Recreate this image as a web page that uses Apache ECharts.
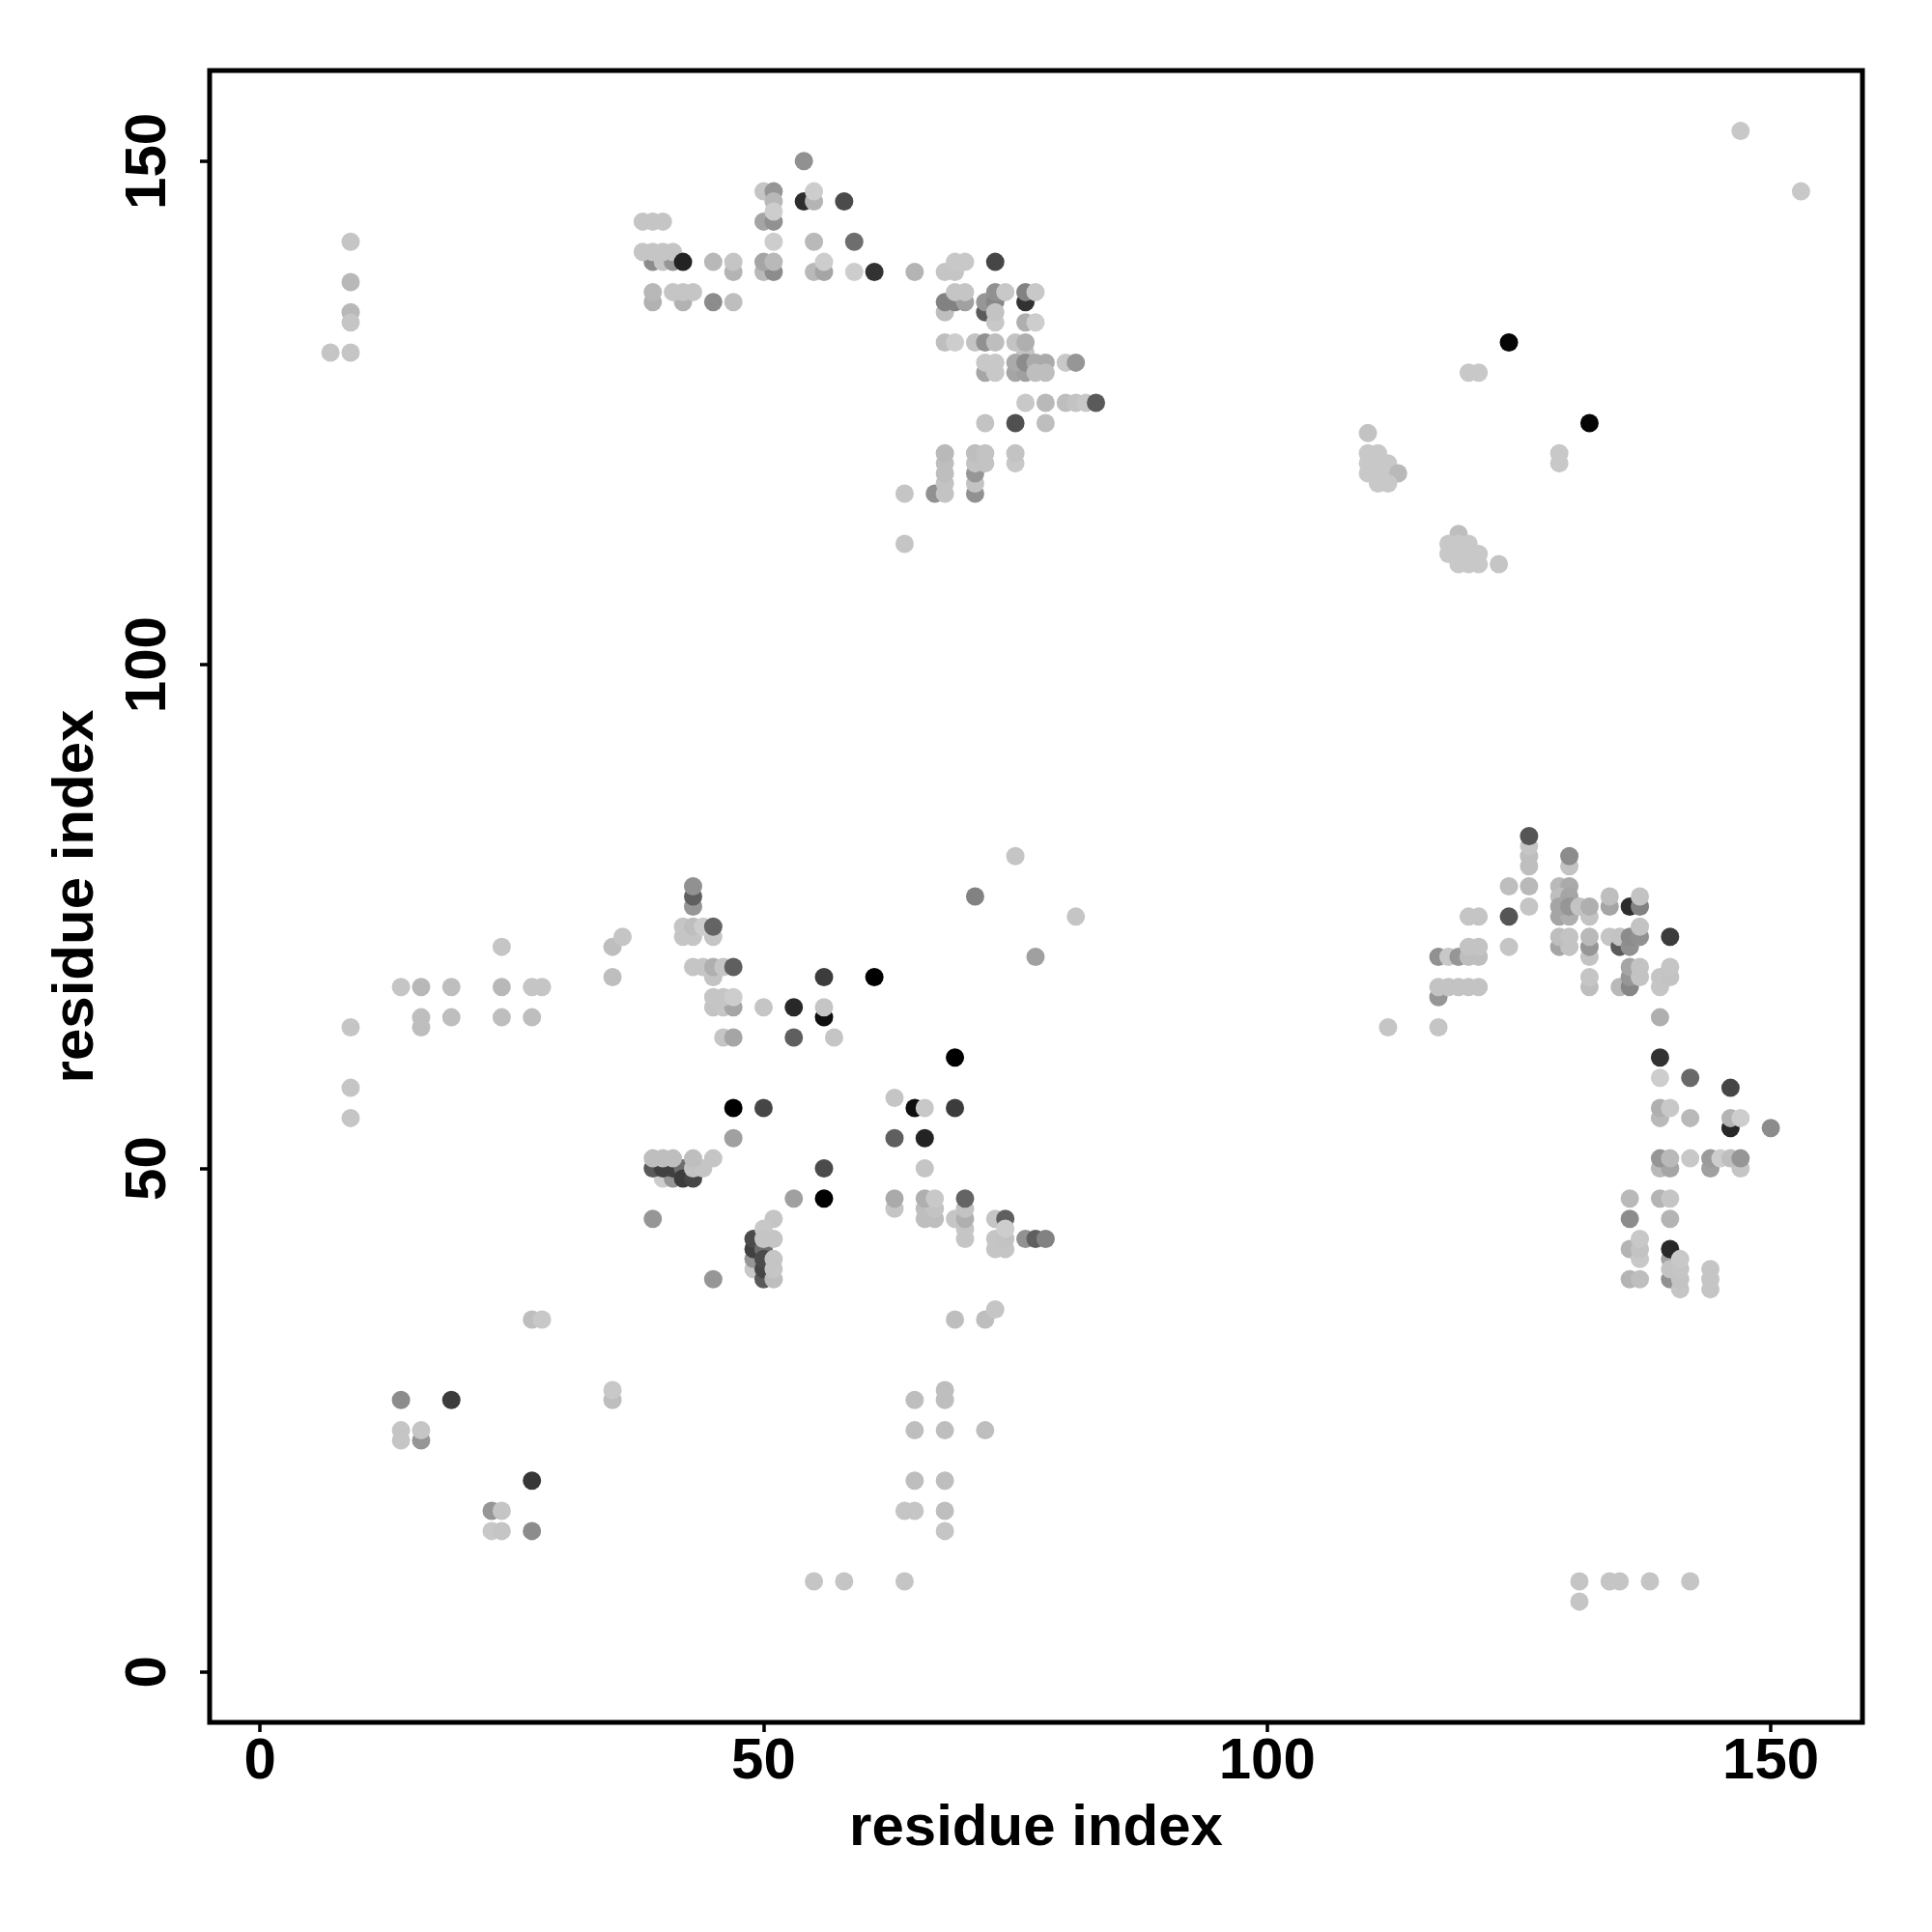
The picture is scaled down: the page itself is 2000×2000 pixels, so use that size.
<!DOCTYPE html>
<html>
<head>
<meta charset="utf-8">
<script src="https://cdn.jsdelivr.net/npm/echarts@6/dist/echarts.min.js"></script>
<style>html,body{margin:0;padding:0;background:#fff}#c{width:2000px;height:2000px}</style>
</head>
<body>
<div id="c"></div>
<script>
// Each point: [residue x, residue y, grey level]
const tickValues = [0, 50, 100, 150];
const axisTitle = 'residue index';

const topLeft = [
  [9,142,197],[9,138,184],[9,135,184],[9,134,197],[7,131,197],[9,131,197]
];
const topMiddleA = [
  [38,144,197],[39,144,197],[40,144,197],
  [39,140,140],[40,140,197],[41,140,150],
  [38,141,197],[39,141,197],[40,141,197],[41,141,197],[42,140,35],
  [45,140,184],[47,139,180],[47,140,197],
  [39,136,178],[39,137,184],[42,136,178],[41,137,197],[42,137,197],[43,137,197],
  [45,136,140],[47,136,190],
  [50,147,197],[51,147,150],[51,146,184],[50,144,165],[51,144,145],[51,145,205],[51,142,205],
  [50,139,185],[51,139,140],[50,140,165],[51,140,185],
  [54,150,145],[54,146,45],[55,146,180],[55,147,205],[58,146,75],
  [55,142,185],[59,142,110],
  [55,139,185],[56,139,165],[56,140,205],[59,139,205],[61,139,50],[65,139,180]
];
const topMiddleB = [
  [68,139,197],[69,139,197],[69,140,200],[70,140,200],[73,140,70],
  [68,135,190],[68,136,130],[69,136,130],[70,136,160],[69,137,197],[70,137,197],
  [72,135,90],[72,136,150],[73,136,135],[73,137,145],[74,137,200],[73,134,200],[73,135,195],
  [76,136,50],[76,137,130],[77,137,200],
  [76,134,175],[77,134,205],
  [68,132,190],[69,132,205],[71,132,195],[72,132,145],[73,132,190],[76,131,195],[75,132,195],[76,132,175],
  [72,129,165],[73,129,200],[72,130,200],[73,130,200],
  [75,129,165],[76,129,160],[75,130,170],[76,130,140],[77,130,170],[78,130,170],[77,129,190],[78,129,190],
  [80,130,200],[81,130,150],
  [76,126,200],[78,126,185],[80,126,190],[81,126,195],[82,126,200],[83,126,90],
  [72,124,195],[75,124,80],[78,124,190]
];
const topLowerColumns = [
  [67,117,145],[68,117,195],[68,118,195],[68,119,190],[68,120,190],[68,121,185],
  [71,117,145],[71,118,195],[71,119,150],[71,120,195],[71,121,190],[72,120,195],[72,121,195],
  [75,120,200],[75,121,195],[64,117,197],[64,112,197]
];
const topRight = [
  [124,132,5],[132,124,5],[120,129,200],[121,129,200],[129,121,200],[129,120,200],
  [147,153,200],[153,147,200]
];
const clusterRightUpper = [
  [110,123,195],[110,121,200],[111,121,200],[110,120,200],[111,120,200],[112,120,200],
  [110,119,200],[111,119,200],[112,119,200],[113,119,185],[111,118,200],[112,118,200]
];
const clusterRightLower = [
  [119,113,190],[118,112,200],[119,112,200],[120,112,200],[118,111,200],[119,111,200],
  [120,111,200],[121,111,200],[119,110,200],[120,110,200],[121,110,200],[123,110,197]
];
const midLeft = [
  [9,64,197],[9,58,197],[9,55,197],
  [14,68,197],[16,68,184],[19,68,190],[24,68,184],[27,68,197],[28,68,197],[24,72,197],
  [16,65,190],[16,64,190],[19,65,190],[24,65,190],[27,65,190],
  [35,72,190],[36,73,197],[35,69,190]
];
const midCenterUpper = [
  [43,76,150],[43,77,95],[43,78,145],
  [42,73,197],[43,73,197],[45,73,197],[42,74,197],[43,74,190],[44,74,205],[45,74,100],
  [45,69,195],[43,70,197],[44,70,197],[45,70,175],[46,70,197],[47,70,95],
  [45,66,195],[46,66,197],[47,66,165],[45,67,197],[46,67,197],[47,67,205],
  [50,66,197],[53,66,40],[56,65,15],[56,66,197],[56,69,60],
  [46,63,197],[47,63,165],[53,63,95],[57,63,197],
  [61,69,0],[69,61,0],[71,77,130],[75,81,197],[81,75,197],[77,71,160]
];
const midCenterLower = [
  [47,56,0],[50,56,70],[47,53,160],
  [63,57,197],[65,56,15],[66,56,200],[69,56,60],[63,53,95],[66,53,35],[66,50,197],
  [56,50,75],[56,47,0],[53,47,160],
  [63,46,197],[63,47,170],[66,45,190],[67,45,190],[66,46,190],[67,46,195],[66,47,175],[67,47,200],
  [69,45,197],[70,43,197],[70,44,197],[70,45,175],[70,46,195],[70,47,100],
  [73,45,197],[74,45,95],[73,42,197],[74,42,197],[73,43,197],[74,43,195],[74,44,205],
  [76,43,145],[77,43,95],[78,43,130],
  [69,35,190],[72,35,190],[73,36,197],
  [40,49,205],[41,49,150],[39,50,90],[40,50,65],[41,50,65],[42,50,110],[42,49,60],[43,49,70],
  [39,51,190],[40,51,190],[41,51,190],[43,50,195],[44,50,197],[43,51,190],[45,51,197],
  [39,45,150],[45,39,150],
  [49,40,200],[49,41,150],[49,42,65],[49,43,75],[50,42,110],[50,39,90],[50,40,70],[50,41,75],
  [51,45,197],[50,44,200],[50,43,197],[51,43,197],[51,39,190],[51,40,197],[51,41,197]
];
const midRightUpper = [
  [112,64,197],[117,64,197],[117,67,150],[117,68,195],[118,68,195],[119,68,195],[120,68,195],[121,68,195],
  [117,71,145],[118,71,200],[119,71,150],[120,71,190],[121,71,190],[120,72,195],[121,72,195],
  [120,75,197],[121,75,197],[124,75,85],[124,72,197],[124,78,190],
  [126,78,185],[126,76,197],[126,80,190],[126,81,190],[126,82,197],[126,83,85],
  [130,80,195],[130,81,140],
  [129,78,185],[130,78,170],[129,77,190],[130,77,165],[129,75,165],[130,75,175],[129,76,165],[130,76,150],
  [131,76,195],[132,75,195],[132,76,175],
  [129,72,165],[130,72,195],[129,73,190],[130,73,195],
  [132,71,195],[132,72,150],[132,73,185],[132,68,190],[132,69,197],
  [134,76,165],[134,77,190],[136,76,45],[137,76,130],[137,77,195],
  [134,73,197],[135,72,90],[135,73,195],[136,72,145],[136,73,140],[137,73,145],[137,74,195],
  [140,73,60],
  [135,68,185],[136,68,135],[136,69,150],[136,70,165],[137,69,195],[137,70,195],
  [139,68,197],[139,69,197],[140,69,195],[140,70,197],[139,65,175],[139,61,50]
];
const midRightLower = [
  [139,59,205],[142,59,105],[146,58,70],
  [139,55,185],[139,56,175],[140,56,200],[142,55,185],
  [146,54,40],[146,55,180],[147,55,205],[150,54,140],
  [139,50,185],[140,50,165],[139,51,150],[140,51,185],[142,51,200],
  [144,50,160],[147,50,197],[144,51,155],[145,51,205],[146,51,190],[147,51,150],
  [136,47,185],[139,47,180],[140,47,197],[136,45,140],[140,45,180],
  [136,42,180],[137,41,200],[137,42,195],[137,43,200],[136,39,180],[137,39,190],
  [140,39,145],[140,41,160],[140,40,195],[140,42,40],
  [141,38,197],[141,39,195],[141,40,197],[141,41,200],
  [144,38,197],[144,39,197],[144,40,197]
];
const bottomLeft = [
  [27,35,190],[28,35,200],[14,27,140],[19,27,60],[35,27,190],[35,28,200],
  [14,23,197],[14,24,197],[16,23,150],[16,24,197],[27,19,55],
  [23,16,150],[24,16,197],[23,14,200],[24,14,197],[27,14,140]
];
const bottomMiddle = [
  [55,9,197],[58,9,197],[64,9,197],
  [65,27,190],[68,27,190],[68,28,190],[65,24,190],[68,24,190],[72,24,190],
  [65,19,190],[68,19,190],[64,16,197],[65,16,197],[68,16,190],[68,14,197]
];
const bottomRight = [
  [131,9,197],[131,7,197],[134,9,197],[135,9,197],[138,9,197],[142,9,197]
];

const points = [].concat(
  topLeft, topMiddleA, topMiddleB, topLowerColumns, topRight, clusterRightUpper, clusterRightLower,
  midLeft, midCenterUpper, midCenterLower, midRightUpper, midRightLower,
  bottomLeft, bottomMiddle, bottomRight
);

const FONT = '"Liberation Sans", Arial, sans-serif';
function axis(labelRotate, labelMargin, nameGap, min, max) {
  return {
    type: 'value', min: min, max: max, scale: true,
    name: axisTitle, nameLocation: 'middle', nameGap: nameGap,
    nameTextStyle: { fontFamily: FONT, fontWeight: 'bold', fontSize: 60, color: '#000' },
    axisLine: { show: false, onZero: false },
    axisTick: { show: true, length: 10, inside: false, customValues: tickValues, lineStyle: { color: '#000', width: 3.5 } },
    axisLabel: { show: true, customValues: tickValues, rotate: labelRotate, margin: labelMargin, hideOverlap: false, showMinLabel: true, showMaxLabel: true,
      fontFamily: FONT, fontWeight: 'bold', fontSize: 60, color: '#000' },
    splitLine: { show: false }
  };
}

const chart = echarts.init(document.getElementById('c'), null, { renderer: 'canvas' });
chart.setOption({
  animation: false,
  backgroundColor: '#fff',
  grid: { left: 217, top: 73, width: 1711, height: 1710, show: true, backgroundColor: 'transparent', borderColor: '#000', borderWidth: 5, containLabel: false },
  xAxis: axis(0, 11, 80, -5, 159.1),
  yAxis: axis(90, 33, 108, -5, 159),
  series: [{
    type: 'scatter',
    data: points,
    symbol: 'circle',
    symbolSize: 19,
    silent: true,
    clip: true,
    large: false,
    itemStyle: { opacity: 1, color: function (p) { const g = p.value[2]; return 'rgb(' + g + ',' + g + ',' + g + ')'; } }
  }]
});
</script>
</body>
</html>
